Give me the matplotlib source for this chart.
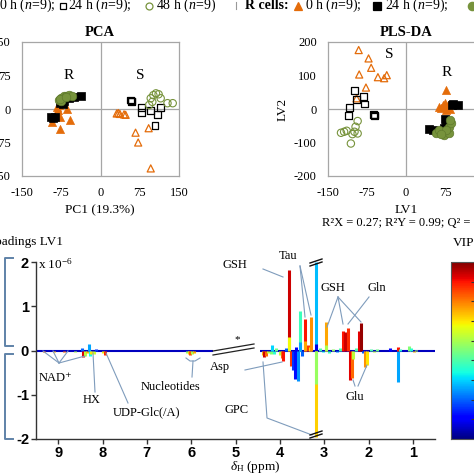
import numpy as np
import matplotlib
matplotlib.use('Agg')
import matplotlib.pyplot as plt
from matplotlib.lines import Line2D
from matplotlib.collections import LineCollection
from matplotlib.colors import Normalize
from matplotlib.cm import ScalarMappable

W = H = 474
plt.rcParams['font.family'] = ['Liberation Serif', 'DejaVu Serif']
plt.rcParams['mathtext.fontset'] = 'custom'
plt.rcParams['mathtext.rm'] = 'Liberation Serif'
plt.rcParams['mathtext.it'] = 'Liberation Serif:italic'
plt.rcParams['mathtext.bf'] = 'Liberation Serif:bold'
plt.rcParams['axes.unicode_minus'] = False

ORANGE = '#e46c0a'
GREEN = '#77933c'

# ---------------- PCA scores ----------------
pca_S0_x = [31, 37, 48, 67, 72, 92, 96, 34, 45]
pca_S0_y = [-10, -11, -13, -53, -75, -43, -133, -9, -12]
pca_S24_x = [58, 59, 60, 78, 78, 95, 115, 109, 104]
pca_S24_y = [20, 16, 18, 3, -8, -4, 3, -13, -37]
pca_S48_x = [96, 101, 106, 111, 99, 93, 115, 128, 138]
pca_S48_y = [24, 31, 35, 33, 16, 9, 24, 13, 13]
pca_R0_x = [-83, -82, -64, -77, -59, -92, -77, -80, -85]
pca_R0_y = [5, -2, 0, -17, -25, -28, -45, 8, -10]
pca_R24_x = [-94, -90, -86, -37, -77, -72, -70, -60, -50]
pca_R24_y = [-18, -20, -19, 28, 14, 12, 18, 25, 27]
pca_R48_x = [-80, -76, -70, -65, -60, -55, -75, -78, -66]
pca_R48_y = [20, 25, 28, 30, 31, 30, 18, 22, 27]

# ---------------- PLS-DA scores ----------------
pls_S0_x = [-91, -72, -67, -90, -54, -37, -42, -77, -95]
pls_S0_y = [176, 151, 123, 103, 95, 101, 92, 64, 32]
pls_S24_x = [-99, -81, -95, -80, -109, -111, -62, -60, -61]
pls_S24_y = [55, 37, 29, 15, 5, -19, -16, -18, -21]
pls_S48_x = [-93, -97, -99, -125, -119, -114, -103, -93, -106]
pls_S48_y = [-36, -53, -68, -71, -68, -65, -75, -73, -103]
pls_R0_x = [76, 71, 64, 75, 85, 67, 80, 74, 77]
pls_R0_y = [57, 12, 7, 19, -1, 2, 12, 7, -3]
pls_R24_x = [91, 100, 88, 75, 78, 44, 51, 77, 74]
pls_R24_y = [15, 11, 11, -30, -36, -61, -63, -43, -58]
pls_R48_x = [58, 64, 74, 82, 83, 87, 77, 67, 84]
pls_R48_y = [-71, -63, -78, -73, -55, -43, -63, -75, -33]

score_ticks = [-150, -75, 0, 75, 150]
pls_yticks = [-200, -100, 0, 100, 200]

# ---------------- Loadings LV1 (x 1e-6), coloured by VIP ----------------
peak_ppm = [9.33, 9.10, 8.87, 8.62, 8.47, 8.44, 8.40, 8.34, 8.30, 8.28, 8.25, 8.19, 8.15,
            7.98, 7.95, 6.10, 6.06, 6.02, 5.98, 5.94,
            4.39, 4.36, 4.32, 4.27, 4.20, 4.17, 4.13, 4.08, 3.99, 3.95, 3.92, 3.87,
            3.79, 3.79, 3.74, 3.70, 3.66, 3.645, 3.60, 3.55, 3.55, 3.50,
            3.44, 3.44, 3.37, 3.33, 3.30,
            3.19, 3.19, 3.19, 3.19,
            3.10, 3.03, 2.95, 2.95, 2.88, 2.80, 2.72, 2.65,
            2.57, 2.52, 2.47, 2.41, 2.38, 2.34, 2.29,
            2.21, 2.17, 2.12, 2.08, 2.04,
            1.95, 1.88, 1.80, 1.72, 1.52, 1.33, 1.33, 1.28, 1.08, 1.04, 0.98, 0.92]
peak_load = [-0.04, -0.04, -0.04, -0.03, 0.06, -0.15, -0.12, -0.06, 0.14, -0.13, -0.09, -0.08, 0.04,
             -0.06, -0.10, -0.05, -0.08, -0.11, -0.08, -0.06,
             -0.11, -0.15, -0.12, -0.06, -0.09, 0.12, -0.07, 0.05, -0.10, -0.18, -0.23, 0.06,
             1.81, 0.30, -0.34, -0.45, -0.64, 0.08, -0.68, 0.90, 0.20, -0.12,
             0.72, 0.22, 0.13, 0.08, 0.76,
             2.00, 0.15, -1.95, -0.75,
             0.05, -0.04, 0.64, 0.12, -0.05, 0.04, -0.04, 0.05,
             0.45, 0.42, 0.51, -0.66, -0.62, -0.20, 0.05,
             0.45, 0.62, -0.06, -0.38, -0.33,
             0.03, -0.03, 0.03, -0.02, 0.06, -0.72, 0.07, 0.03, 0.10, 0.05, -0.03, 0.02]
peak_vip = [3.6, 3.2, 3.6, 2.5, 1.0, 4.1, 2.6, 3.2, 1.3, 1.7, 3.0, 2.7, 0.8,
            2.9, 3.9, 2.4, 3.1, 3.7, 2.5, 3.3,
            3.2, 4.2, 3.6, 2.6, 2.3, 1.5, 1.8, 2.2, 2.6, 3.6, 4.0, 1.0,
            4.2, 2.9, 3.8, 0.8, 0.6, 0.5, 1.2, 1.9, 1.3, 1.0,
            4.0, 3.3, 3.8, 3.0, 3.4,
            1.4, 0.4, 3.1, 2.4,
            2.0, 1.6, 3.3, 2.5, 1.9, 2.4, 1.2, 2.0,
            4.0, 4.2, 3.9, 4.1, 3.6, 2.6, 2.0,
            4.1, 4.4, 1.0, 3.4, 3.0,
            2.0, 2.6, 2.2, 1.5, 0.5, 1.3, 4.0, 1.8, 2.3, 1.8, 3.2, 2.5]
baseline_segments = [(9.5, 5.5), (4.45, 0.5)]
ppm_ticks = [9, 8, 7, 6, 5, 4, 3, 2, 1]
load_ticks = [-2, -1, 0, 1, 2]
vip_range = (0.0, 4.5)
vip_ticks = [0.5, 1.0, 1.5, 2.0, 2.5, 3.0, 3.5, 4.0]

fig = plt.figure(figsize=(W / 100, H / 100), dpi=100)


def rect(l, t, r, b):
    return [l / W, 1 - b / H, (r - l) / W, (b - t) / H]


def ftext(x, y, s, **kw):
    return fig.text(x / W, 1 - y / H, s, **kw)


def fline(xs, ys, **kw):
    fig.add_artist(Line2D([x / W for x in xs], [1 - y / H for y in ys],
                          transform=fig.transFigure, **kw))


def score_panel(ax, ylim, yticks, d):
    ax.set_xlim(-150, 150)
    ax.set_ylim(*ylim)
    for s in ax.spines.values():
        s.set_color('#a6a6a6')
        s.set_linewidth(0.9)
    ax.axhline(0, color='#a6a6a6', lw=0.9, zorder=0)
    ax.axvline(0, color='#a6a6a6', lw=0.9, zorder=0)
    ax.set_xticks(score_ticks)
    ax.set_yticks(yticks)
    ax.tick_params(length=0, pad=8, labelsize=9)
    S0, S24, S48, R0, R24, R48 = d
    ax.scatter(*S0, marker='^', s=26, facecolors='none', edgecolors=ORANGE, linewidths=0.9, zorder=3)
    ax.scatter(*S24, marker='s', s=24, facecolors='none', edgecolors='black', linewidths=0.9, zorder=3)
    ax.scatter(*S48, marker='o', s=28, facecolors='none', edgecolors=GREEN, linewidths=0.8, zorder=3)
    ax.scatter(*R0, marker='^', s=34, facecolors=ORANGE, edgecolors=ORANGE, linewidths=0.5, zorder=4)
    ax.scatter(*R24, marker='s', s=34, facecolors='black', edgecolors='black', linewidths=0.5, zorder=4)
    ax.scatter(*R48, marker='o', s=38, facecolors=GREEN, edgecolors='#5f7a2c', linewidths=0.5, zorder=5)


# PCA
axP = fig.add_axes(rect(22, 42, 179, 176))
score_panel(axP, (-150, 150), score_ticks,
            [(pca_S0_x, pca_S0_y), (pca_S24_x, pca_S24_y), (pca_S48_x, pca_S48_y),
             (pca_R0_x, pca_R0_y), (pca_R24_x, pca_R24_y), (pca_R48_x, pca_R48_y)])
axP.text(-61, 74, 'R', ha='center', va='center', fontsize=11)
axP.text(76, 74, 'S', ha='center', va='center', fontsize=11)
ftext(100, 32, 'PCA', ha='center', va='center', fontsize=10.5, fontweight='bold')
ftext(100, 210, 'PC1 (19.3%)', ha='center', va='center', fontsize=9.5)

# PLS-DA
axD = fig.add_axes(rect(328, 42, 484, 176))
score_panel(axD, (-200, 200), pls_yticks,
            [(pls_S0_x, pls_S0_y), (pls_S24_x, pls_S24_y), (pls_S48_x, pls_S48_y),
             (pls_R0_x, pls_R0_y), (pls_R24_x, pls_R24_y), (pls_R48_x, pls_R48_y)])
axD.text(-32, 164, 'S', ha='center', va='center', fontsize=11)
axD.text(78, 108, 'R', ha='center', va='center', fontsize=11)
ftext(406, 32, 'PLS-DA', ha='center', va='center', fontsize=10.5, fontweight='bold')
ftext(406, 210, 'LV1', ha='center', va='center', fontsize=9.5)
ftext(283, 109, 'LV2', ha='center', va='center', fontsize=9.5, rotation=90)
ftext(322, 223, 'R²X = 0.27; R²Y = 0.99; Q² = 0.97', ha='left', va='center', fontsize=9)

# top legend row
yb = 8.8
fs_top = 10
ftext(-1, yb, r'0 h ($n$=9);', ha='left', va='baseline', fontsize=fs_top)
ftext(68, yb, r'24 h ($n$=9);', ha='left', va='baseline', fontsize=fs_top)
ftext(156, yb, r'48 h ($n$=9)', ha='left', va='baseline', fontsize=fs_top)
ftext(245, yb, 'R cells:', ha='left', va='baseline', fontsize=fs_top, fontweight='bold')
ftext(305, yb, r'0 h ($n$=9);', ha='left', va='baseline', fontsize=fs_top)
ftext(385, yb, r'24 h ($n$=9);', ha='left', va='baseline', fontsize=fs_top)
fline([236, 236], [2, 9], color='#999999', lw=0.8)
for (x, m, fc, ec, ms) in [(63, 's', 'none', 'black', 5.0), (149, 'o', 'none', GREEN, 5.0),
                           (298, '^', ORANGE, ORANGE, 6.0), (377, 's', 'black', 'black', 5.5),
                           (472, 'o', GREEN, GREEN, 6.0)]:
    fig.add_artist(Line2D([x / W], [1 - 5.5 / H], marker=m, markersize=ms, markerfacecolor=fc,
                          markeredgecolor=ec, markeredgewidth=0.9, linestyle='none',
                          transform=fig.transFigure))

# ---------------- Loadings panel ----------------
axL = fig.add_axes(rect(36, 262, 435, 439))
axL.set_xlim(9.5, 0.5)
axL.set_ylim(-2, 2)
cmap = plt.get_cmap('jet')
norm = Normalize(*vip_range)
for (a, b) in baseline_segments:
    axL.plot([a, b], [0, 0], color=cmap(norm(0.25)), lw=1.5, zorder=2, solid_capstyle='butt')
segs = [[(p, 0), (p, v)] for p, v in zip(peak_ppm, peak_load)]
lc = LineCollection(segs, colors=[cmap(norm(v)) for v in peak_vip], linewidths=2.2,
                    capstyle='butt', zorder=3)
axL.add_collection(lc)
for side in ['top', 'right']:
    axL.spines[side].set_visible(False)
for side in ['left', 'bottom']:
    axL.spines[side].set_color('#333333')
    axL.spines[side].set_linewidth(1.0)
axL.set_xticks(ppm_ticks)
axL.set_yticks(load_ticks)
axL.set_yticklabels([str(t) for t in load_ticks])
axL.tick_params(direction='out', length=3.5, width=1, color='#333333', pad=1.5)
for lab in axL.get_xticklabels() + axL.get_yticklabels():
    lab.set_fontfamily('Liberation Sans')
    lab.set_fontweight('bold')
    lab.set_fontsize(10.5)

ftext(63, 242, 'Loadings LV1', ha='right', va='center', fontsize=9.5)
ftext(38, 264, r'x 10$^{-6}$', ha='left', va='center', fontsize=9.5)
ftext(230, 467, r'$\delta_{\mathrm{H}}$ (ppm)', ha='left', va='center', fontsize=9.5)

BR = '#5f82a8'
fline([13, 5, 5, 13], [258, 258, 346, 346], color=BR, lw=1.4)
fline([13, 5, 5, 13], [354, 354, 439, 439], color=BR, lw=1.4)

AC = '#7f9cbc'
lab_kw = dict(ha='center', va='center', fontsize=9)
ftext(55, 378, 'NAD⁺', **lab_kw)
for (x2, y2) in [(43, 351), (53, 351), (68, 351), (85, 356)]:
    fline([59, x2], [363, y2], color=AC, lw=0.8)
ftext(92, 400, 'HX', **lab_kw)
fline([95, 93], [392, 353], color=AC, lw=0.8)
ftext(147, 412, 'UDP-Glc(/A)', **lab_kw)
fline([128, 106], [403, 353], color=AC, lw=0.8)
ftext(171, 387, 'Nucleotides', **lab_kw)
fline([192, 193], [377, 361], color=AC, lw=0.8)
fline([186, 190, 195, 200], [358, 361, 361, 358], color=AC, lw=0.8)
ftext(220, 367, 'Asp', **lab_kw)
fline([245, 282], [370, 362], color=AC, lw=0.8)
ftext(237, 410, 'GPC', **lab_kw)
fline([263, 267, 312], [362, 418, 435], color=AC, lw=0.8)
ftext(235, 265, 'GSH', **lab_kw)
fline([263, 283], [269, 277], color=AC, lw=0.8)
ftext(288, 256, 'Tau', **lab_kw)
fline([300, 305], [266, 317], color=AC, lw=0.8)
fline([300, 311], [266, 315], color=AC, lw=0.8)
ftext(333, 288, 'GSH', **lab_kw)
for (x2, y2) in [(327, 327), (343, 324), (361, 322)]:
    fline([338, x2], [297, y2], color=AC, lw=0.8)
ftext(377, 288, 'Gln', **lab_kw)
fline([369, 348], [297, 324], color=AC, lw=0.8)
ftext(355, 397, 'Glu', **lab_kw)
fline([355, 353], [386, 380], color=AC, lw=0.8)
fline([358, 367], [386, 365], color=AC, lw=0.8)

# break marks
ftext(237, 340, '*', ha='center', va='center', fontsize=8)
fline([213, 254], [351, 344], color='#222222', lw=0.9)
fline([213, 254], [355, 348], color='#222222', lw=0.9)
for yy in (262, 434):
    fline([310, 322], [yy + 1, yy - 3], color='#111111', lw=1.0)
    fline([310, 322], [yy + 4, yy], color='#111111', lw=1.0)

# colorbar
cax = fig.add_axes(rect(451, 262, 475, 439))
cb = fig.colorbar(ScalarMappable(norm=norm, cmap=cmap), cax=cax)
cb.set_ticks(vip_ticks)
cax.tick_params(direction='in', length=3, width=0.8, color='#333333', labelsize=9)
cb.outline.set_edgecolor('#555555')
cb.outline.set_linewidth(0.8)
ftext(453, 243, 'VIP', ha='left', va='center', fontsize=9.5)

fig.savefig('out.png', dpi=100)
